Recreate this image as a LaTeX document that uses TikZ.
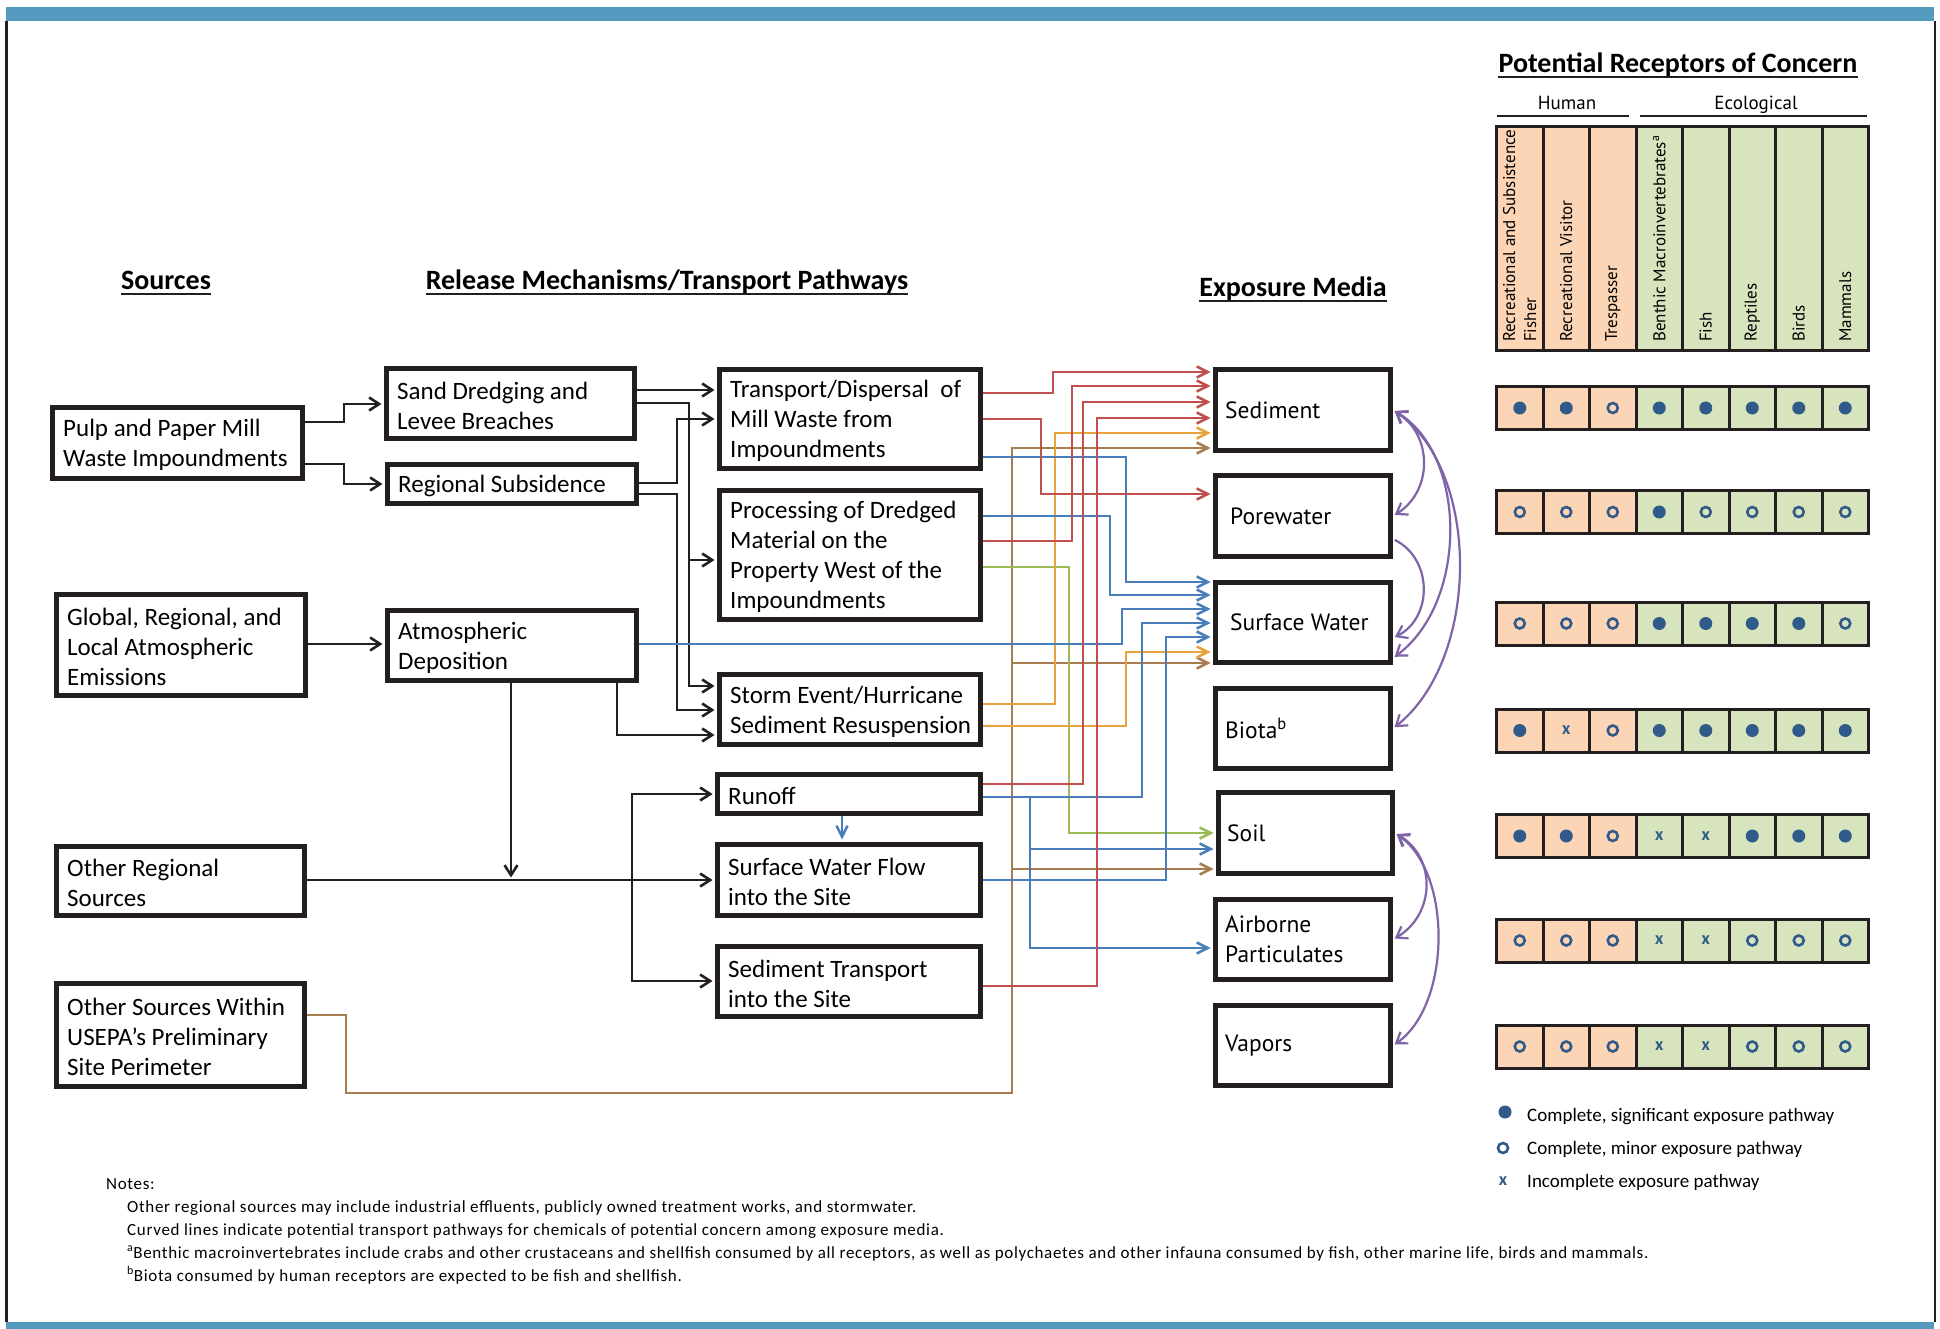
\documentclass[tikz,border=0pt]{standalone}
\usepackage{fontspec}
\setmainfont{Carlito}
\newfontfamily\ptsans{PT Sans}
\newfontfamily\notefont[LetterSpace=4]{Carlito}
\usetikzlibrary{arrows.meta}
\definecolor{cred}{HTML}{C0504D}
\definecolor{cblue}{HTML}{4A7EBB}
\definecolor{cgreen}{HTML}{9BBB59}
\definecolor{corange}{HTML}{E8A33D}
\definecolor{cbrown}{HTML}{A97C50}
\definecolor{cpurple}{HTML}{7F64A8}
\definecolor{dotblue}{HTML}{2F5A8A}
\definecolor{peach}{HTML}{FBD5B5}
\definecolor{sage}{HTML}{D7E4BD}
\definecolor{barblue}{HTML}{5499BE}
\definecolor{ink}{HTML}{231F20}

\newcommand{\recrow}[3]{%
  \fill[peach] (1496.5,#2-21.5) rectangle (1636,#2+21.5);
  \fill[sage] (1636,#2-21.5) rectangle (1868.5,#2+21.5);
  \foreach \c [count=\i from 0] in {#3} {
    \pgfmathsetmacro{\cx}{1519.75+46.5*\i}
    \ifcase\c\relax
      \fill[dotblue] (\cx,#2) circle (6.5);
    \or
      \draw[dotblue,line width=2.6pt] (\cx,#2) circle (5);
    \or
      \node[xmark] (#1-\i) at (\cx,#2) {x};
    \fi
  }
  \draw[ink,line width=3pt] (1496.5,#2-21.5) rectangle (1868.5,#2+21.5);
  \foreach \k in {1,...,7} \draw[ink,line width=3pt] (1496.5+46.5*\k,#2-21.5) -- (1496.5+46.5*\k,#2+21.5);
}

\begin{document}
\begin{tikzpicture}[x=1pt,y=-1pt,line join=miter,
  box/.style={draw=ink,line width=5pt,fill=white,rectangle,inner sep=0pt},
  btxt/.style={anchor=west,align=left,inner sep=0pt,yshift=-2pt,font=\fontsize{25}{30}\selectfont,text=black},
  mtxt/.style={anchor=west,align=left,inner sep=0pt,font=\ptsans\fontsize{23.5}{30}\selectfont,text=black},
  head/.style={anchor=base,inner sep=0pt,font=\bfseries\fontsize{28}{32}\selectfont,text=black},
  sub/.style={anchor=base,inner sep=0pt,font=\ptsans\fontsize{19}{22}\selectfont,text=black},
  rot/.style={rotate=90,anchor=west,align=left,inner sep=0pt,font=\ptsans\fontsize{17}{21}\selectfont,text=black},
  xmark/.style={inner sep=0pt,font=\bfseries\fontsize{18}{20}\selectfont,text=dotblue},
  legt/.style={anchor=base west,inner sep=0pt,font=\fontsize{19}{22}\selectfont,text=black},
  note/.style={anchor=base west,inner sep=0pt,font=\notefont\fontsize{17}{20}\selectfont,text=black},
  blk/.style={draw=ink,line width=2.6pt,shorten >=2.5pt,>={Straight Barb[length=10pt,width=13pt]}},
  cl/.style={line width=2.5pt,shorten >=2.5pt,>={Straight Barb[length=11pt,width=11pt]}},
  cr/.style={cl,draw=cred},
  cb/.style={cl,draw=cblue},
  cg/.style={cl,draw=cgreen},
  co/.style={cl,draw=corange},
  cw/.style={cl,draw=cbrown},
  pur/.style={draw=cpurple,line width=2.2pt,shorten >=2pt,shorten <=2pt,>={Straight Barb[length=10pt,width=14pt]}},
  uline/.style={draw=ink,line width=2.5pt}
]
\useasboundingbox (0,0) rectangle (1940,1329);
\fill[white] (0,0) rectangle (1940,1329);
% frame
\fill[barblue] (6,7) rectangle (1934,21);
\fill[barblue] (6,1322) rectangle (1934,1329);
\draw[ink,line width=2.5pt] (6.5,21) -- (6.5,1322);
\draw[ink,line width=2.5pt] (1935,21) -- (1935,1322);

% headings
\node[head] (hSrc) at (166,290) {Sources};
\draw[uline] ([yshift=-4pt]hSrc.base west) -- ([yshift=-4pt]hSrc.base east);
\node[head] (hRel) at (667,290) {Release Mechanisms/Transport Pathways};
\draw[uline] ([yshift=-4pt]hRel.base west) -- ([yshift=-4pt]hRel.base east);
\node[head] (hExp) at (1293,297) {Exposure Media};
\draw[uline] ([yshift=-4pt]hExp.base west) -- ([yshift=-4pt]hExp.base east);
\node[head] (hRec) at (1678,73) {Potential Receptors of Concern};
\draw[uline] ([yshift=-4pt]hRec.base west) -- ([yshift=-4pt]hRec.base east);
\node[sub] (hHum) at (1567,110) {Human};
\draw[uline] (1497,116) -- (1629,116);
\node[sub] (hEco) at (1756,110) {Ecological};
\draw[uline] (1640,116) -- (1867,116);

% source boxes
\node[box,minimum width=250,minimum height=71] (pulp) at (177.5,443) {};
\node[btxt] (pulpT) at ([xshift=13pt]pulp.west) {Pulp and Paper Mill\\Waste Impoundments};
\node[box,minimum width=249,minimum height=101] (global) at (181,645) {};
\node[btxt] (globalT) at ([xshift=13pt]global.west) {Global, Regional, and\\Local Atmospheric\\Emissions};
\node[box,minimum width=248,minimum height=69] (other) at (180.5,881) {};
\node[btxt] (otherT) at ([xshift=13pt]other.west) {Other Regional\\Sources};
\node[box,minimum width=248,minimum height=103] (within) at (180.5,1035) {};
\node[btxt] (withinT) at ([xshift=13pt]within.west) {Other Sources Within\\USEPA’s Preliminary\\Site Perimeter};

% release boxes
\node[box,minimum width=248,minimum height=70] (sand) at (510.5,403.5) {};
\node[btxt] (sandT) at ([xshift=13pt]sand.west) {Sand Dredging and\\Levee Breaches};
\node[box,minimum width=249,minimum height=39] (subs) at (512,484) {};
\node[btxt] (subsT) at ([xshift=13pt]subs.west) {Regional Subsidence};
\node[box,minimum width=249,minimum height=70] (atm) at (512,645.5) {};
\node[btxt] (atmT) at ([xshift=13pt]atm.west) {Atmospheric\\Deposition};

\node[box,minimum width=261,minimum height=99] (trans) at (850,419) {};
\node[btxt] (transT) at ([xshift=13pt]trans.west) {Transport/Dispersal\ \ of\\Mill Waste from\\Impoundments};
\node[box,minimum width=261,minimum height=129] (proc) at (850,555) {};
\node[btxt] (procT) at ([xshift=13pt]proc.west) {Processing of Dredged\\Material on the\\Property West of the\\Impoundments};
\node[box,minimum width=261,minimum height=70] (storm) at (850,709.5) {};
\node[btxt] (stormT) at ([xshift=13pt]storm.west) {Storm Event/Hurricane\\Sediment Resuspension};
\node[box,minimum width=263,minimum height=39] (runoff) at (849,794) {};
\node[btxt] (runoffT) at ([xshift=13pt]runoff.west) {Runoff};
\node[box,minimum width=263,minimum height=71] (swf) at (849,880) {};
\node[btxt] (swfT) at ([xshift=13pt]swf.west) {Surface Water Flow\\into the Site};
\node[box,minimum width=263,minimum height=70] (sedtr) at (849,981.5) {};
\node[btxt] (sedtrT) at ([xshift=13pt]sedtr.west) {Sediment Transport\\into the Site};

% exposure media
\node[box,minimum width=175,minimum height=81] (sed) at (1303,410) {};
\node[mtxt] (sedT) at ([xshift=12pt]sed.west) {Sediment};
\node[box,minimum width=175,minimum height=81] (pore) at (1303,516) {};
\node[mtxt] (poreT) at ([xshift=17pt]pore.west) {Porewater};
\node[box,minimum width=175,minimum height=80] (sw) at (1303,622.5) {};
\node[mtxt] (swT) at ([xshift=17pt]sw.west) {Surface Water};
\node[box,minimum width=175,minimum height=80] (biota) at (1303,728.5) {};
\node[mtxt] (biotaT) at ([xshift=12pt]biota.west) {Biota\textsuperscript{b}};
\node[box,minimum width=174,minimum height=81] (soil) at (1305.5,833) {};
\node[mtxt] (soilT) at ([xshift=11pt]soil.west) {Soil};
\node[box,minimum width=175,minimum height=80] (air) at (1303,939.5) {};
\node[mtxt] (airT) at ([xshift=12pt]air.west) {Airborne\\Particulates};
\node[box,minimum width=175,minimum height=80] (vap) at (1303,1045.5) {};
\node[mtxt] (vapT) at ([xshift=12pt]vap.west) {Vapors};

% black connectors
\draw[blk,->] (pulp.east |- 0,422) -| (344,404) -- (sand.west |- 0,404);
\draw[blk,->] (pulp.east |- 0,464) -| (344,484) -- (subs.west |- 0,484);
\draw[blk,->] (global.east |- 0,644) -- (atm.west |- 0,644);
\draw[blk,->] (sand.east |- 0,390) -- (trans.west |- 0,390);
\draw[blk,->] (sand.east |- 0,403) -| (689,560) -- (proc.west |- 0,560);
\draw[blk,->] (sand.east |- 0,403) -| (689,686) -- (storm.west |- 0,686);
\draw[blk,->] (subs.east |- 0,483) -| (677,419) -- (trans.west |- 0,419);
\draw[blk,->] (subs.east |- 0,494) -| (677,710) -- (storm.west |- 0,710);
\draw[blk,->] (atm.south -| 617,0) |- (storm.west |- 0,735);
\draw[blk,->] (atm.south -| 511,0) -- (511,880);
\draw[blk,->] (other.east |- 0,880) -- (swf.west |- 0,880);
\draw[blk,->] (other.east |- 0,880) -| (632,794) -- (runoff.west |- 0,794);
\draw[blk,->] (other.east |- 0,880) -| (632,981) -- (sedtr.west |- 0,981);
\draw[cb,->] (runoff.south -| 842,0) -- (swf.north -| 842,0);

% brown
\draw[cw,->] (within.east |- 0,1015) -| (346,1093) -| (1012,448) -- (sed.west |- 0,448);
\draw[cw,->] (within.east |- 0,1015) -| (346,1093) -| (1012,663) -- (sw.west |- 0,663);
\draw[cw,->] (within.east |- 0,1015) -| (346,1093) -| (1012,869) -- (soil.west |- 0,869);
% green
\draw[cg,->] (proc.east |- 0,567) -| (1069,833) -- (soil.west |- 0,833);
% orange
\draw[co,->] (storm.east |- 0,704) -| (1055,433) -- (sed.west |- 0,433);
\draw[co,->] (storm.east |- 0,726) -| (1126,652) -- (sw.west |- 0,652);
% blue
\draw[cb,->] (trans.east |- 0,457) -| (1126,582) -- (sw.west |- 0,582);
\draw[cb,->] (proc.east |- 0,516) -| (1110,595) -- (sw.west |- 0,595);
\draw[cb,->] (atm.east |- 0,644) -| (1122,609) -- (sw.west |- 0,609);
\draw[cb,->] (runoff.east |- 0,797) -| (1142,623) -- (sw.west |- 0,623);
\draw[cb,->] (swf.east |- 0,880) -| (1166,637) -- (sw.west |- 0,637);
\draw[cb,->] (runoff.east |- 0,797) -| (1030,849) -- (soil.west |- 0,849);
\draw[cb,->] (runoff.east |- 0,797) -| (1030,948) -- (air.west |- 0,948);
% red
\draw[cr,->] (trans.east |- 0,393) -| (1053,372) -- (sed.west |- 0,372);
\draw[cr,->] (trans.east |- 0,419) -| (1041,494) -- (pore.west |- 0,494);
\draw[cr,->] (proc.east |- 0,541) -| (1072,386) -- (sed.west |- 0,386);
\draw[cr,->] (runoff.east |- 0,784) -| (1083,402) -- (sed.west |- 0,402);
\draw[cr,->] (sedtr.east |- 0,986) -| (1097,418) -- (sed.west |- 0,418);

% purple curves
\draw[pur,<->] (sed.east) .. controls +(40,25) and +(40,-25) .. (pore.east);
\draw[pur,<->] (sed.east) .. controls +(75,45) and +(75,-55) .. (sw.east |- 0,658);
\draw[pur,<->] (sed.east) .. controls +(88,60) and +(88,-70) .. (biota.east);
\draw[pur,->] (pore.east |- 0,539) .. controls +(40,20) and +(40,-20) .. (sw.east |- 0,638);
\draw[pur,<->] (soil.east) .. controls +(42,25) and +(42,-25) .. (air.east);
\draw[pur,<->] (soil.east) .. controls +(58,40) and +(58,-40) .. (vap.east);

% receptor header
\fill[peach] (1496.5,126.5) rectangle (1636,350.5);
\fill[sage] (1636,126.5) rectangle (1868.5,350.5);
\draw[ink,line width=3pt] (1496.5,126.5) rectangle (1868.5,350.5);
\foreach \k in {1,...,7} \draw[ink,line width=3pt] (1496.5+46.5*\k,126.5) -- (1496.5+46.5*\k,350.5);
\node[rot] (rc1) at (1519.75,342) {Recreational and Subsistence\\Fisher};
\node[rot] (rc2) at (1566.25,342) {Recreational Visitor};
\node[rot] (rc3) at (1612.75,342) {Trespasser};
\node[rot] (rc4) at (1659.25,342) {Benthic Macroinvertebrates\textsuperscript{a}};
\node[rot] (rc5) at (1705.75,342) {Fish};
\node[rot] (rc6) at (1752.25,342) {Reptiles};
\node[rot] (rc7) at (1798.75,342) {Birds};
\node[rot] (rc8) at (1845.25,342) {Mammals};

% receptor rows
\recrow{ra}{408}{0,0,1,0,0,0,0,0}
\recrow{rb}{512}{1,1,1,0,1,1,1,1}
\recrow{rc}{623.5}{1,1,1,0,0,0,0,1}
\recrow{rd}{730.5}{0,2,1,0,0,0,0,0}
\recrow{re}{836}{0,0,1,2,2,0,0,0}
\recrow{rf}{940.5}{1,1,1,2,2,1,1,1}
\recrow{rg}{1046.5}{1,1,1,2,2,1,1,1}

% legend
\fill[dotblue] (1505,1112) circle (6.5);
\node[legt] (lg1) at (1527,1121) {Complete, significant exposure pathway};
\draw[dotblue,line width=2.6pt] (1503,1148) circle (5);
\node[legt] (lg2) at (1527,1154) {Complete, minor exposure pathway};
\node[xmark] (lgx) at (1503,1181) {x};
\node[legt] (lg3) at (1527,1187) {Incomplete exposure pathway};

% notes
\node[note] (n0) at (106,1189) {Notes:};
\node[note] (n1) at (127,1212) {Other regional sources may include industrial effluents, publicly owned treatment works, and stormwater.};
\node[note] (n2) at (127,1235) {Curved lines indicate potential transport pathways for chemicals of potential concern among exposure media.};
\node[note] (n3) at (127,1258) {\textsuperscript{a}Benthic macroinvertebrates include crabs and other crustaceans and shellfish consumed by all receptors, as well as polychaetes and other infauna consumed by fish, other marine life, birds and mammals.};
\node[note] (n4) at (127,1281) {\textsuperscript{b}Biota consumed by human receptors are expected to be fish and shellfish.};
\end{tikzpicture}
\end{document}
